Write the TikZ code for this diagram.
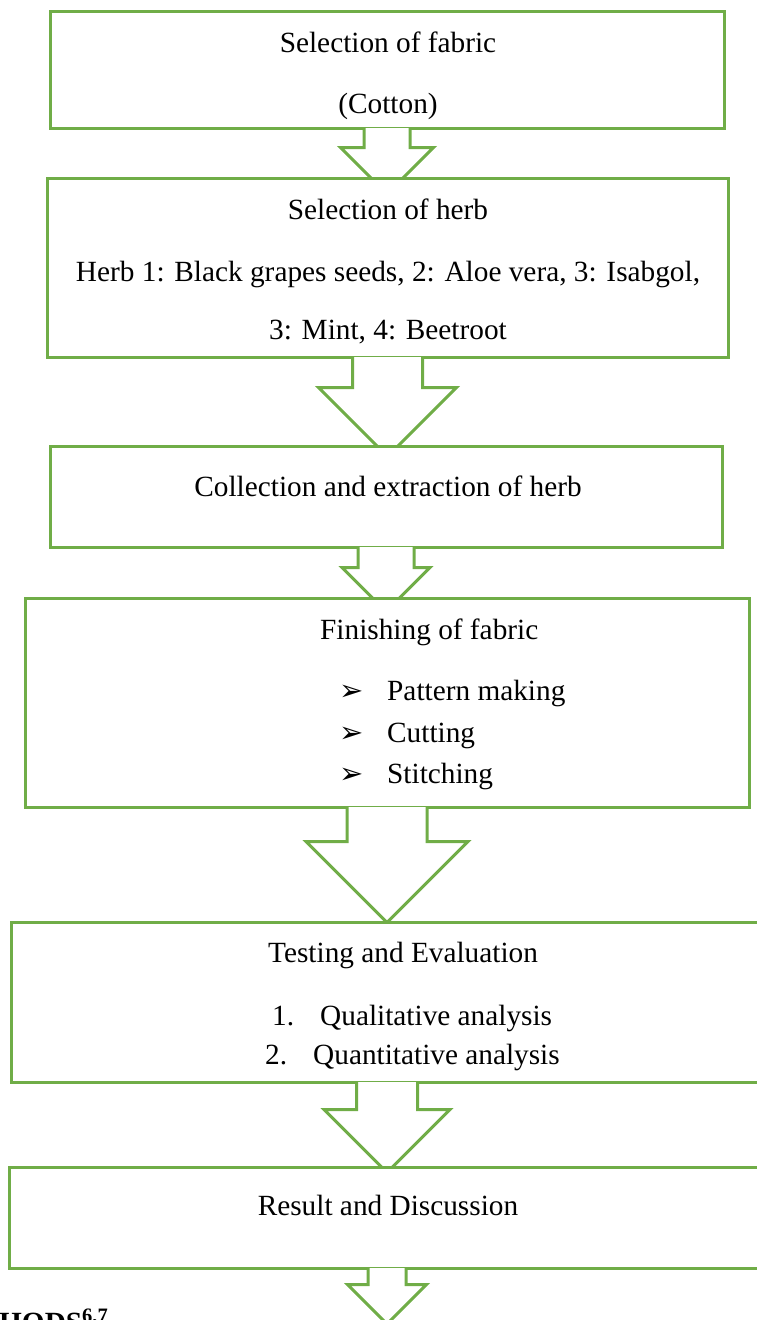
\documentclass[tikz,border=0pt]{standalone}
\usepackage{fontspec}
\setmainfont{Liberation Serif}
\newfontfamily\dingfont{DejaVu Sans}
\usetikzlibrary{calc}
\definecolor{boxgreen}{RGB}{112,173,71}

\tikzset{
  stage/.style={draw=boxgreen,line width=3pt,fill=white,inner sep=0pt},
  blockarr/.style={draw=boxgreen,line width=3pt,fill=white,line join=miter},
  txt/.style={anchor=base,inner sep=0pt},
  item/.style={anchor=base west,inner sep=0pt},
  tick/.style={anchor=base west,inner sep=0pt,font=\dingfont\fontsize{29}{34}\selectfont},
}
% block arrow below node #1: shaft half width #2, head half width #3, shaft length #4
\newcommand\blockarrow[4]{%
  \draw[blockarr] ($(#1.south)+(-#2,-1.5)$) -- ++(0,#4+1.5) -- ++(#2-#3,0)
    -- ++(#3,#3) -- ++(#3,-#3) -- ++(#2-#3,0) -- ++(0,-#4-1.5);}

\begin{document}
\begin{tikzpicture}[x=1pt,y=-1pt,font=\fontsize{29.3}{35}\selectfont]
\useasboundingbox (0,0) rectangle (756,1320);

\node[stage,minimum width=674pt,minimum height=117pt] (fabric) at (387,69.5) {};
\node[txt] (fabric1) at (388,52) {Selection of fabric};
\node[txt] (fabric2) at (388,113) {(Cotton)};
\blockarrow{fabric}{23}{46.5}{18}

\node[stage,minimum width=681pt,minimum height=179pt] (herb) at (387.5,267.5) {};
\node[txt] (herb1) at (388,219) {Selection of herb};
\node[txt] (herb2) at (388,281) {Herb 1: Black grapes seeds, 2: Aloe vera, 3: Isabgol,};
\node[txt] (herb3) at (388,339) {3: Mint, 4: Beetroot};
\blockarrow{herb}{35}{69}{29}

\node[stage,minimum width=672pt,minimum height=101pt] (extract) at (386,496.5) {};
\node[txt] (extract1) at (388,496) {Collection and extraction of herb};
\blockarrow{extract}{28}{44}{19}

\node[stage,minimum width=724pt,minimum height=209pt] (finish) at (387,702.5) {};
\node[item] (finish1) at (320,639) {Finishing of fabric};
\foreach \y/\t [count=\i] in {700/Pattern making,742/Cutting,783/Stitching}{
  \node[tick] (b\i) at (339,\y) {➢};
  \node[item] (s\i) at (387,\y) {\t};
}
\blockarrow{finish}{40}{81}{33}

\node[stage,minimum width=752pt,minimum height=160pt] (testing) at (387,1002) {};
\node[item] (testing1) at (268,962) {Testing and Evaluation};
\node[item] (n1) at (272,1025) {1.};
\node[item] (q1) at (320,1025) {Qualitative analysis};
\node[item] (n2) at (265,1064) {2.};
\node[item] (q2) at (313,1064) {Quantitative analysis};
\blockarrow{testing}{30.5}{63}{26}

\node[stage,minimum width=756pt,minimum height=101pt] (result) at (387,1217.5) {};
\node[txt] (result1) at (388,1215) {Result and Discussion};
\blockarrow{result}{19}{39.5}{15}

\node[item,font=\fontsize{29.3}{35}\selectfont\bfseries] (hods) at (-1,1332) {HODS\textsuperscript{6,7}};
\end{tikzpicture}
\end{document}
